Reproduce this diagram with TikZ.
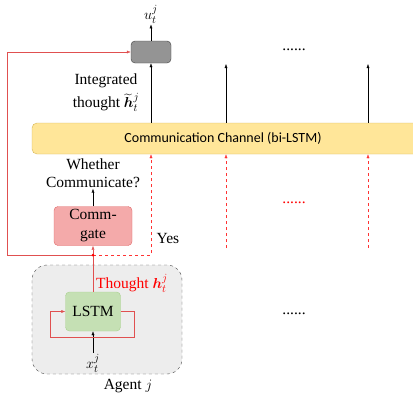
\documentclass[tikz,border=0pt]{standalone}
\usepackage{amsmath}
\usepackage{bm}
\usepackage{fontspec}
\setmainfont{Liberation Serif}
\newfontfamily\chanfont{Carlito}
\usetikzlibrary{arrows.meta}

\definecolor{chanfill}{HTML}{FFE699}
\definecolor{chanline}{HTML}{D6B656}
\definecolor{gatefill}{HTML}{F4AAAA}
\definecolor{gateline}{HTML}{E06666}
\definecolor{lstmfill}{HTML}{C5E0B4}
\definecolor{lstmline}{HTML}{A9D18E}
\definecolor{agentfill}{HTML}{EDEDED}
\definecolor{fbred}{HTML}{E05050}

\tikzset{
	lbl/.style={font=\fontsize{15.5}{18}\selectfont, inner sep=1pt},
	box/.style={draw, rounded corners=4pt, inner sep=0pt, lbl},
	outbox/.style={box, fill=black!42, draw=black!75, minimum width=40pt, minimum height=22pt},
	gatebox/.style={box, fill=gatefill, draw=gateline, minimum width=78pt, minimum height=39pt, align=center},
	lstmbox/.style={box, fill=lstmfill, draw=lstmline, minimum width=55pt, minimum height=39pt},
	agentbox/.style={draw=black!70, dashed, fill=agentfill, rounded corners=15pt, minimum width=150pt, minimum height=109pt},
	chanbox/.style={draw=chanline, fill=chanfill, rounded corners=5pt, minimum width=400pt, minimum height=31pt},
	tip/.style={-{Latex[length=4pt,width=3pt]}},
	redline/.style={fbred, tip},
	reddash/.style={red!80, dashed, tip},
}

\begin{document}
\begin{tikzpicture}[x=1pt,y=-1pt]
	\clip (0,0) rectangle (413,402);
	% boxes
	\node[agentbox] (agent) at (107,319.5) {};
	\node[chanbox] (chan) at (232,138.5) {};
	\node[font=\chanfont\fontsize{14}{16}\selectfont] (chantext) at (223,138.5) {Communication Channel (bi-LSTM)};
	\node[outbox] (act) at (151,52) {};
	\node[gatebox, font=\fontsize{15.5}{19}\selectfont] (gate) at (93,226) {Comm-\\gate};
	\node[lstmbox] (lstm) at (93,311.5) {LSTM};
	% labels
	\node[lbl] (u) at (151,14) {$u_t^j$};
	\node[lbl, align=center, font=\fontsize{15.5}{23}\selectfont] (integ) at (106,93) {Integrated\\thought $\widetilde{\bm{h}}_t^j$};
	\node[lbl, align=center] (whether) at (93,173) {Whether\\Communicate?};
	\node[lbl] (yes) at (168,238) {Yes};
	\node[lbl, text=red] (thought) at (132,283) {Thought $\bm{h}_t^j$};
	\node[lbl] (x) at (93,363) {$x_t^j$};
	\node[lbl] (agentname) at (128,386) {Agent $j$};
	\node[lbl] (dotsA) at (294,50) {......};
	\node[lbl, text=red] (dotsB) at (294,203) {......};
	\node[lbl] (dotsC) at (294,314) {......};
	\coordinate (split) at (93,255);
	\coordinate (fb) at (7,255);
	\coordinate (up2) at (226,64);
	\coordinate (up3) at (368,64);
	\coordinate (dn2) at (226,248);
	\coordinate (dn3) at (368,248);
	% black arrows
	\draw[tip] (act) -- (u);
	\draw[tip] (chan.north -| act) -- (act);
	\draw[tip] (chan.north -| up2) -- (up2);
	\draw[tip] (chan.north -| up3) -- (up3);
	\draw[tip] (gate) -- (whether);
	\draw[tip] (x) -- (lstm);
	% red arrows
	\draw[redline] (lstm) -- (gate);
	\draw[redline] (split) -- (fb) |- (act);
	\draw[redline] (lstm.east) -- ++(13,0) -- ++(0,26) -| ([xshift=-15pt]lstm.west) -- (lstm.west);
	\draw[reddash] (split) -| (chan.south -| act);
	\draw[reddash] (dn2) -- (chan.south -| dn2);
	\draw[reddash] (dn3) -- (chan.south -| dn3);
	\fill[red] (split) circle (1.5pt);
\end{tikzpicture}
\end{document}
